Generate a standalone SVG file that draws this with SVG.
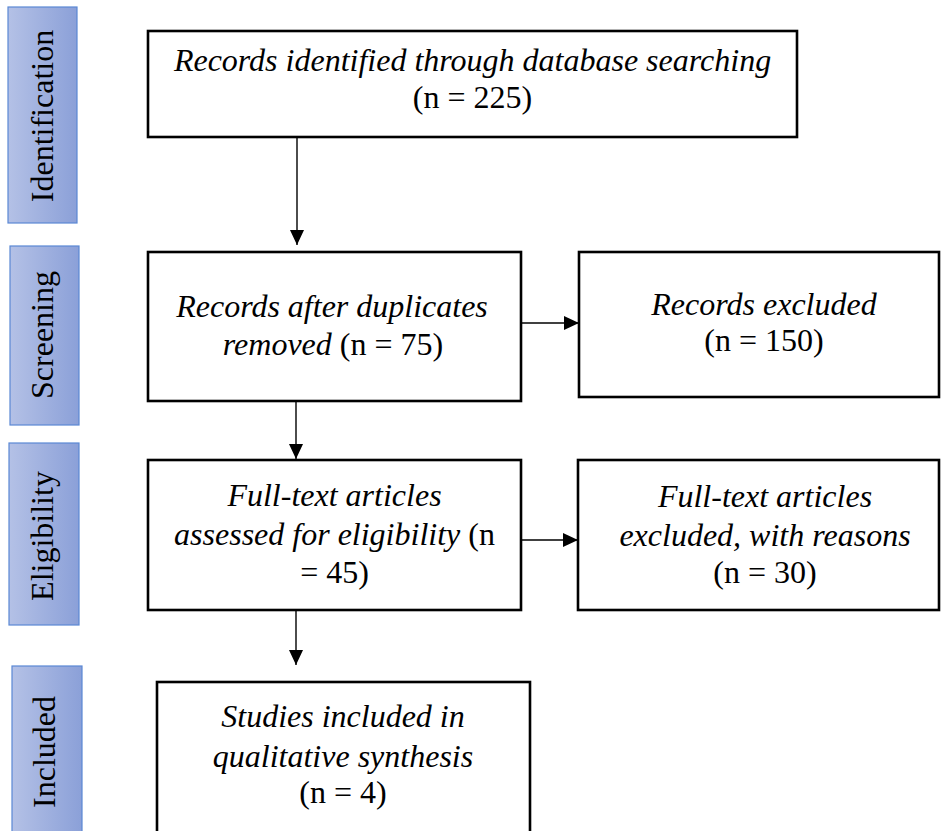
<svg xmlns="http://www.w3.org/2000/svg" width="941" height="831" viewBox="0 0 941 831">
<style>
.box{fill:#fff;stroke:#000;stroke-width:2.6}
.bar{fill:url(#barg);stroke:#5a88d4;stroke-width:1.2}
text{font-family:'Liberation Serif','Times New Roman',Tinos,'DejaVu Serif','Noto Serif',serif;font-size:32px;fill:#000;text-anchor:middle}
.i{font-style:italic}
.con{stroke:#000;stroke-width:1.4;fill:none}
</style>
<defs>
<linearGradient id="barg" x1="0" y1="0" x2="1" y2="0">
<stop offset="0" stop-color="#b4c1e6"/>
<stop offset="1" stop-color="#8ba0d8"/>
</linearGradient>
<marker id="ah" markerUnits="userSpaceOnUse" markerWidth="16" markerHeight="16" viewBox="0 0 16 16" refX="15" refY="8" orient="auto">
<path d="M0,1 L15,8 L0,15 Z" fill="#000"/>
</marker>
</defs>
<g id="phase-identification"><rect class="bar" x="8" y="7" width="69" height="216"/><text transform="translate(53,116) rotate(-90)">Identification</text></g>
<g id="phase-screening"><rect class="bar" x="10" y="246" width="69" height="179"/><text transform="translate(53,335) rotate(-90)">Screening</text></g>
<g id="phase-eligibility"><rect class="bar" x="9" y="443" width="70" height="182"/><text transform="translate(53,536) rotate(-90)">Eligibility</text></g>
<g id="phase-included"><rect class="bar" x="12" y="666" width="70" height="180"/><text transform="translate(55,752) rotate(-90)">Included</text></g>
<g id="connectors">
<line class="con" x1="297" y1="137" x2="297" y2="245" marker-end="url(#ah)"/>
<line class="con" x1="521" y1="323" x2="579" y2="323" marker-end="url(#ah)"/>
<line class="con" x1="296" y1="401" x2="296" y2="459" marker-end="url(#ah)"/>
<line class="con" x1="521" y1="540" x2="578" y2="540" marker-end="url(#ah)"/>
<line class="con" x1="296" y1="610" x2="296" y2="665" marker-end="url(#ah)"/>
</g>
<g id="identified"><rect class="box" x="148" y="31" width="649" height="106"/>
<text x="472.5" y="71"><tspan class="i">Records identified through database searching</tspan></text>
<text x="472.5" y="108">(n = 225)</text></g>
<g id="after-duplicates"><rect class="box" x="148" y="252" width="373" height="149"/>
<text x="332" y="317"><tspan class="i">Records after duplicates</tspan></text>
<text x="333" y="355"><tspan class="i">removed</tspan> (n = 75)</text></g>
<g id="records-excluded"><rect class="box" x="579" y="252" width="360" height="145"/>
<text x="764" y="315"><tspan class="i">Records excluded</tspan></text>
<text x="764" y="351">(n = 150)</text></g>
<g id="full-text-assessed"><rect class="box" x="148" y="460" width="373" height="150"/>
<text x="334.5" y="506"><tspan class="i">Full-text articles</tspan></text>
<text x="334.5" y="545"><tspan class="i">assessed for eligibility</tspan> (n</text>
<text x="334.5" y="583">= 45)</text></g>
<g id="full-text-excluded"><rect class="box" x="578" y="460" width="361" height="150"/>
<text x="765" y="507"><tspan class="i">Full-text articles</tspan></text>
<text x="765" y="546"><tspan class="i">excluded, with reasons</tspan></text>
<text x="765" y="583">(n = 30)</text></g>
<g id="studies-included"><rect class="box" x="157" y="682" width="373" height="170"/>
<text x="343" y="727"><tspan class="i">Studies included in</tspan></text>
<text x="343" y="767"><tspan class="i">qualitative synthesis</tspan></text>
<text x="343" y="803">(n = 4)</text></g>
</svg>
